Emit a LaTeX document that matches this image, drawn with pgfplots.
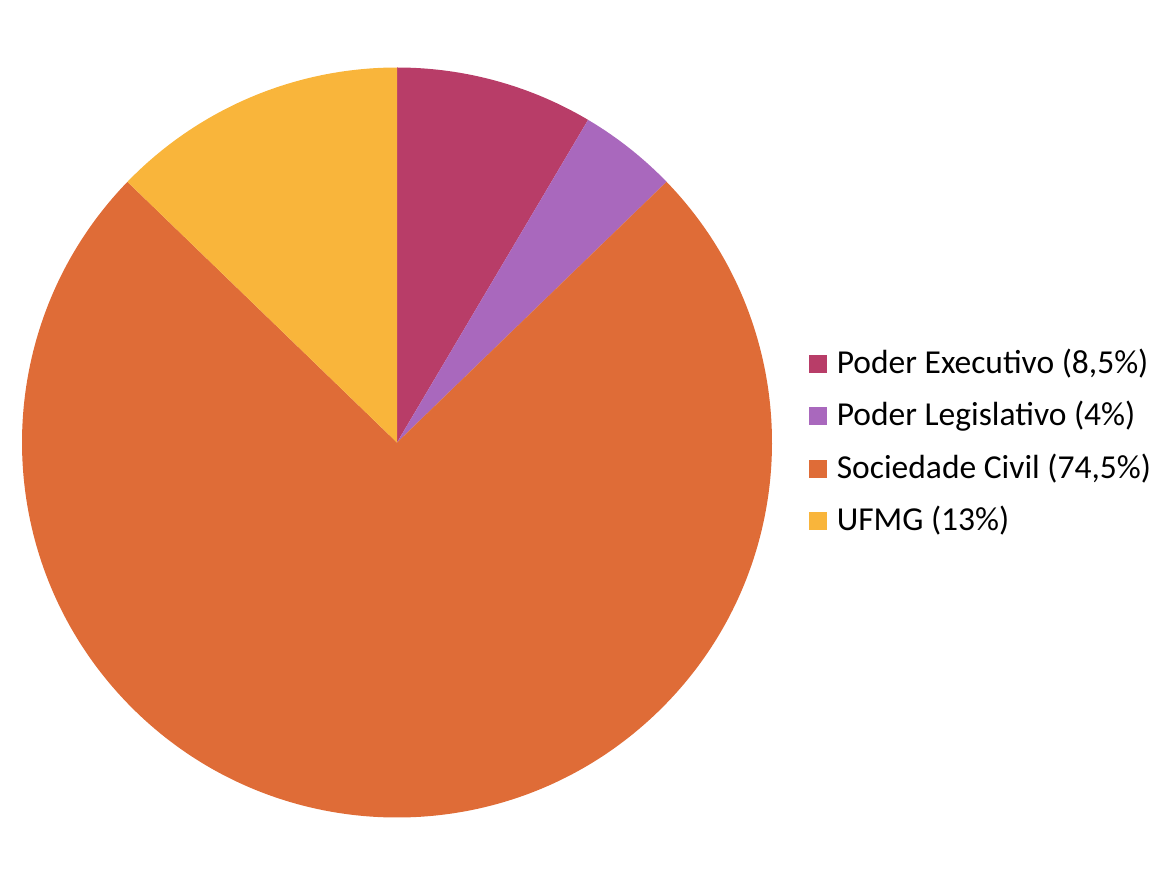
\documentclass[border=0pt]{standalone}
\usepackage{pgfplots}
\usepackage{pgfplotstable}
\usepackage{fontspec}
\setmainfont{Carlito}
\pgfplotsset{compat=1.18}
\definecolor{cexec}{HTML}{B83D68}
\definecolor{cleg}{HTML}{A968BD}
\definecolor{csoc}{HTML}{DF6C37}
\definecolor{cufmg}{HTML}{F9B53B}
% counts per group (total 47)
\pgfplotstableread{
value color
4 cexec
2 cleg
35 csoc
6 cufmg
}\piedata
\def\pietotal{47}
\newcommand{\sq}[1]{\fill[#1] (0pt,-3.25pt) rectangle (8.5pt,5.25pt);}
\begin{document}
\begin{tikzpicture}
\begin{axis}[scale only axis, width=585pt, height=442.5pt,
  xmin=0, xmax=1170, ymin=0, ymax=885, hide axis, clip=false,
  legend cell align=left,
  legend style={draw=none, fill=none, inner sep=0pt, outer sep=0pt,
    at={(axis cs:809,534)}, anchor=north west,
    font=\fontsize{16.75pt}{20pt}\selectfont,
    row sep=11.75pt,
    nodes={inner sep=0pt, text height=11pt, text depth=3.5pt},
    /tikz/every odd column/.append style={column sep=5pt}},
]
\path (axis cs:0,0) rectangle (axis cs:1170,885);
\gdef\cumul{90}
\pgfplotsinvokeforeach{0,...,3}{
  \pgfplotstablegetelem{#1}{value}\of\piedata \let\val\pgfplotsretval
  \pgfplotstablegetelem{#1}{color}\of\piedata \let\col\pgfplotsretval
  \pgfmathsetmacro\endang{\cumul-360*\val/\pietotal}
  \edef\temp{\noexpand\fill[overlay,\col] (axis cs:397,442.5) -- ++(\cumul:187.5pt) arc[start angle=\cumul, end angle=\endang, radius=187.5pt] -- cycle;}
  \temp
  \global\let\cumul\endang
}
\addlegendimage{legend image code/.code={\sq{cexec}}}
\addlegendentry{Poder Executivo (8,5\%)}
\addlegendimage{legend image code/.code={\sq{cleg}}}
\addlegendentry{Poder Legislativo (4\%)}
\addlegendimage{legend image code/.code={\sq{csoc}}}
\addlegendentry{Sociedade Civil (74,5\%)}
\addlegendimage{legend image code/.code={\sq{cufmg}}}
\addlegendentry{UFMG (13\%)}
\end{axis}
\end{tikzpicture}
\end{document}
